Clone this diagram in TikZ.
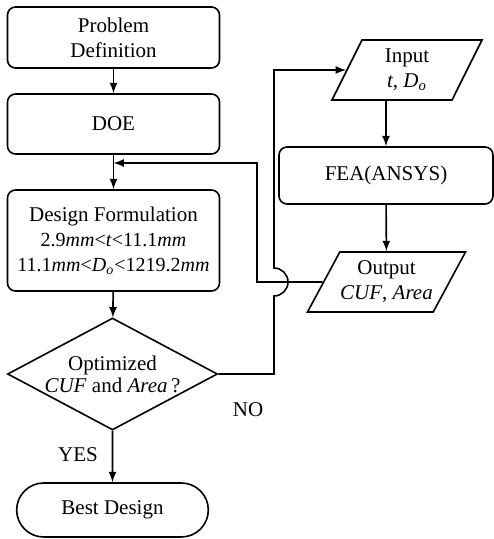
\documentclass[tikz,border=0pt]{standalone}
\usepackage{fontspec}
\setmainfont{Liberation Serif}
\usetikzlibrary{shapes.geometric,shapes.misc}
\newcommand{\tight}[1]{\makebox[0pt]{#1}}
\tikzset{
  block/.style={draw, rounded corners=4pt, minimum width=106pt, align=center},
  decision/.style={draw, diamond, minimum width=105pt, minimum height=56pt, inner sep=0pt, align=center, font=\fontsize{10.5}{11}\selectfont},
  terminal/.style={draw, rounded rectangle, minimum width=102.5pt, minimum height=27pt},
  io/.style={draw, trapezium, trapezium left angle=57, trapezium right angle=123, trapezium stretches body=true, minimum height=30pt, align=center, inner sep=1pt}
}
\begin{document}
\begin{tikzpicture}[x=0.5pt, y=-0.5pt, line width=0.8pt, >=latex, font=\fontsize{10.5}{12.5}\selectfont]
    \useasboundingbox (0, 0) rectangle (493, 539);
    \node [block, minimum height=30.5pt] (pd) at (113.5, 37.5) {Problem\\Definition};
    \node [block, minimum height=30pt] (doe) at (113.5, 124) {DOE};
    \node [block, minimum height=50.5pt] (form) at (113.5, 240.5) {Design Formulation\\
      {\fontsize{10}{12}\selectfont 2.9\textit{mm}<\textit{t}<11.1\textit{mm}}\\
      {\fontsize{10}{12}\selectfont 11.1\textit{mm}<\textit{D}\textsubscript{\textit{o}}<1219.2\textit{mm}}};
    \node [decision] (opt) at (112.5, 374) {\tight{Optimized}\\\tight{\textit{CUF} and \textit{Area}\,?}};
    \node [terminal] (best) at (112.5, 510) {Best Design};
    \node [io, minimum width=75pt] (in) at (407, 70) {\tight{Input}\\\tight{\textit{t}, \textit{D}\textsubscript{\textit{o}}}};
    \node [block, minimum width=107pt, minimum height=28.5pt] (fea) at (386, 175.5) {FEA(ANSYS)};
    \node [io, minimum width=79pt, trapezium left angle=55, trapezium right angle=125] (out) at (386.5, 282) {\tight{Output}\\\tight{\textit{CUF}, \textit{Area}}};
    \node (no) at (248, 410) {NO};
    \node (yes) at (78, 455) {YES};
    \coordinate (join) at (113.5, 163);
    \coordinate (noturn) at (274, 374);
    \coordinate (hop) at (274, 282);
    \draw [->] (pd) -- (doe);
    \draw [->] (doe) -- (form);
    \draw [->] (form) -- (opt);
    \draw [->] (opt) -- (best);
    \draw [->] (opt.east) -- (noturn) -- ([yshift=-7pt]hop) arc [start angle=90, end angle=-90, radius=14] -- (noturn |- in.west) -- (in.west);
    \draw [->] (in.south -| fea.north) -- (fea.north);
    \draw [->] (fea) -- (out);
    \draw [->] (out.west) -- (257, 282) -- (257, 163) -- (join);
\end{tikzpicture}
\end{document}
